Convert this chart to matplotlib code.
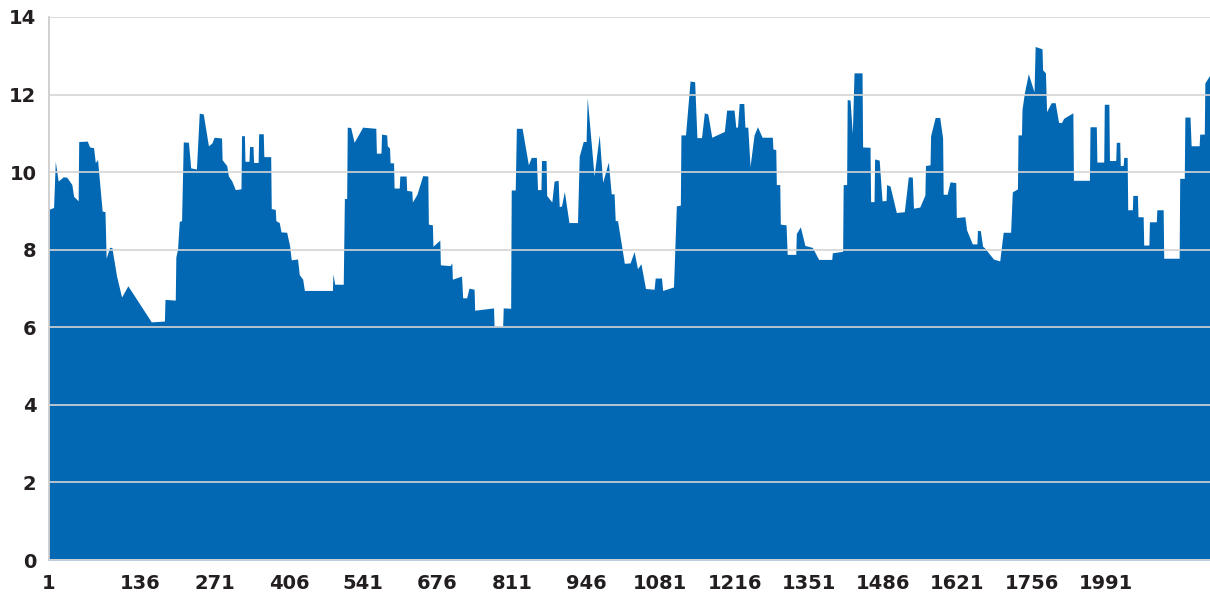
import numpy as np
import matplotlib
matplotlib.use("Agg")
import matplotlib.pyplot as plt

# ── Data: outline vertices of the area (category index, value) ──
CATEGORY = [
    1, 9, 12, 17, 26, 32, 41, 44, 52, 53, 68, 72, 79, 82, 86, 94, 99, 101, 107, 111,
    119, 128, 139, 180, 203, 204, 222, 223, 226, 229, 233, 236, 245, 249, 259, 264, 271, 280, 286, 290,
    303, 304, 312, 315, 321, 327, 337, 338, 343, 344, 351, 352, 358, 359, 367, 368, 376, 377, 389, 390,
    397, 398, 404, 407, 417, 422, 425, 436, 439, 445, 448, 497, 498, 501, 516, 518, 522, 523, 529, 535,
    550, 573, 574, 582, 583, 592, 593, 597, 598, 604, 605, 614, 615, 626, 627, 636, 637, 645, 655, 664,
    665, 672, 673, 685, 686, 703, 706, 707, 723, 725, 732, 736, 745, 746, 779, 780, 795, 796, 809, 810,
    817, 819, 829, 840, 845, 854, 856, 862, 863, 871, 872, 881, 885, 892, 894, 898, 903, 911, 926, 929,
    936, 941, 943, 955, 964, 970, 980, 985, 990, 992, 996, 1008, 1018, 1025, 1031, 1037, 1045, 1060, 1062, 1073,
    1075, 1094, 1099, 1106, 1107, 1115, 1123, 1131, 1135, 1143, 1148, 1154, 1161, 1183, 1187, 1200, 1203, 1206, 1209, 1217,
    1219, 1224, 1228, 1235, 1241, 1249, 1267, 1268, 1273, 1274, 1280, 1281, 1291, 1293, 1308, 1309, 1316, 1324, 1337, 1348,
    1371, 1372, 1390, 1391, 1397, 1398, 1403, 1407, 1410, 1424, 1425, 1438, 1439, 1445, 1446, 1454, 1459, 1466, 1467, 1473,
    1484, 1498, 1505, 1512, 1514, 1525, 1534, 1535, 1543, 1544, 1552, 1560, 1565, 1566, 1573, 1578, 1588, 1589, 1604, 1607,
    1617, 1625, 1626, 1631, 1635, 1639, 1648, 1654, 1665, 1671, 1684, 1687, 1696, 1697, 1703, 1704, 1708, 1715, 1725, 1727,
    1739, 1740, 1745, 1747, 1755, 1762, 1768, 1773, 1777, 1793, 1794, 1822, 1823, 1834, 1835, 1847, 1848, 1856, 1857, 1868,
    1869, 1875, 1876, 1881, 1882, 1888, 1889, 1897, 1898, 1906, 1907, 1916, 1917, 1926, 1927, 1939, 1940, 1951, 1952, 1979,
    1980, 1988, 1989, 1998, 2000, 2014, 2015, 2023, 2024, 2033,
]
VALUE = [
    9.04, 9.09, 10.28, 9.77, 9.88, 9.87, 9.68, 9.38, 9.26, 10.79, 10.80, 10.65, 10.63, 10.25, 10.32, 9.00, 8.98, 7.78, 8.06, 8.06,
    7.34, 6.78, 7.07, 6.14, 6.16, 6.72, 6.70, 7.81, 8.02, 8.73, 8.75, 10.78, 10.77, 10.11, 10.08, 11.52, 11.50, 10.68, 10.75, 10.90,
    10.88, 10.32, 10.17, 9.90, 9.77, 9.55, 9.57, 10.94, 10.94, 10.28, 10.28, 10.66, 10.66, 10.25, 10.25, 10.99, 10.99, 10.40, 10.40, 9.06,
    9.04, 8.75, 8.70, 8.46, 8.45, 8.11, 7.74, 7.76, 7.36, 7.24, 6.95, 6.95, 7.38, 7.11, 7.11, 9.32, 9.32, 11.16, 11.15, 10.77,
    11.16, 11.13, 10.49, 10.49, 10.98, 10.96, 10.68, 10.62, 10.24, 10.24, 9.59, 9.59, 9.90, 9.90, 9.53, 9.51, 9.23, 9.43, 9.91, 9.90,
    8.66, 8.64, 8.09, 8.25, 7.61, 7.59, 7.66, 7.24, 7.32, 6.76, 6.76, 7.01, 6.98, 6.44, 6.50, 6.03, 6.03, 6.50, 6.49, 9.54,
    9.54, 11.13, 11.13, 10.19, 10.38, 10.38, 9.55, 9.55, 10.30, 10.30, 9.40, 9.23, 9.77, 9.79, 9.11, 9.13, 9.50, 8.70, 8.70, 10.41,
    10.79, 10.79, 11.92, 9.90, 10.96, 9.74, 10.26, 9.44, 9.44, 8.75, 8.75, 7.65, 7.66, 7.95, 7.51, 7.64, 7.00, 6.98, 7.27, 7.27,
    6.95, 7.04, 9.13, 9.15, 10.96, 10.96, 12.35, 12.33, 10.89, 10.89, 11.53, 11.50, 10.90, 11.05, 11.60, 11.60, 11.16, 11.16, 11.77, 11.77,
    11.16, 11.16, 10.15, 10.96, 11.17, 10.90, 10.90, 10.60, 10.58, 9.68, 9.68, 8.66, 8.64, 7.88, 7.88, 8.42, 8.59, 8.11, 8.06, 7.75,
    7.75, 7.92, 7.96, 9.68, 9.68, 11.87, 11.86, 10.99, 12.56, 12.56, 10.65, 10.64, 9.24, 9.24, 10.34, 10.31, 9.26, 9.27, 9.68, 9.64,
    8.96, 8.98, 9.88, 9.87, 9.07, 9.10, 9.41, 10.17, 10.19, 10.94, 11.41, 11.41, 10.88, 9.43, 9.43, 9.75, 9.73, 8.83, 8.85, 8.51,
    8.15, 8.15, 8.50, 8.49, 8.09, 8.04, 7.87, 7.76, 7.71, 8.45, 8.45, 9.49, 9.57, 10.96, 10.96, 11.62, 12.03, 12.54, 12.07, 13.24,
    13.18, 12.64, 12.56, 11.56, 11.79, 11.79, 11.28, 11.28, 11.39, 11.53, 9.79, 9.79, 11.17, 11.17, 10.26, 10.26, 11.75, 11.75, 10.30, 10.30,
    10.77, 10.77, 10.17, 10.17, 10.38, 10.38, 9.03, 9.03, 9.40, 9.40, 8.85, 8.85, 8.12, 8.12, 8.72, 8.72, 9.03, 9.03, 7.78, 7.78,
    9.84, 9.84, 11.42, 11.42, 10.68, 10.68, 10.98, 10.98, 12.30, 12.51,
]

TICK_LABELS = ['1', '136', '271', '406', '541', '676', '811', '946', '1081', '1216',
               '1351', '1486', '1621', '1756', '1991']
# where the source chart puts its category labels along the axis
TICK_POS = [1, 161, 291, 421, 551, 681, 811, 941, 1071, 1201, 1331, 1461, 1591, 1721, 1851]
Y_TICKS = [0, 2, 4, 6, 8, 10, 12, 14]

FILL_COLOR = '#0368b3'
GRID_COLOR = '#d4d4d4'
TEXT_COLOR = '#231f20'

plt.rcParams['font.family'] = ['DejaVu Sans']

fig = plt.figure(figsize=(12.10, 5.94), dpi=100)
ax = fig.add_axes([49 / 1210, 1 - 560 / 594, 1 - 49 / 1210, (560 - 17) / 594])

ax.fill_between(CATEGORY, VALUE, 0, color=FILL_COLOR, linewidth=0, zorder=1)

ax.set_xlim(1, CATEGORY[-1])
ax.set_ylim(0, 14)
ax.set_yticks(Y_TICKS)
ax.set_xticks(TICK_POS)
ax.set_xticklabels(TICK_LABELS)

ax.grid(axis='y', color=GRID_COLOR, linewidth=1.2, zorder=2)
ax.set_axisbelow(False)

for side in ['top', 'right']:
    ax.spines[side].set_visible(False)
ax.spines['left'].set_color('#c8c8c8')
ax.spines['left'].set_linewidth(1.2)
ax.spines['bottom'].set_color('#c8d2de')
ax.spines['bottom'].set_linewidth(1.2)

ax.tick_params(axis='both', length=0, labelsize=14, labelcolor=TEXT_COLOR)
ax.tick_params(axis='y', pad=9)
ax.tick_params(axis='x', pad=10)
for lbl in ax.get_xticklabels() + ax.get_yticklabels():
    lbl.set_fontweight('bold')

fig.savefig('out.png', dpi=100)
